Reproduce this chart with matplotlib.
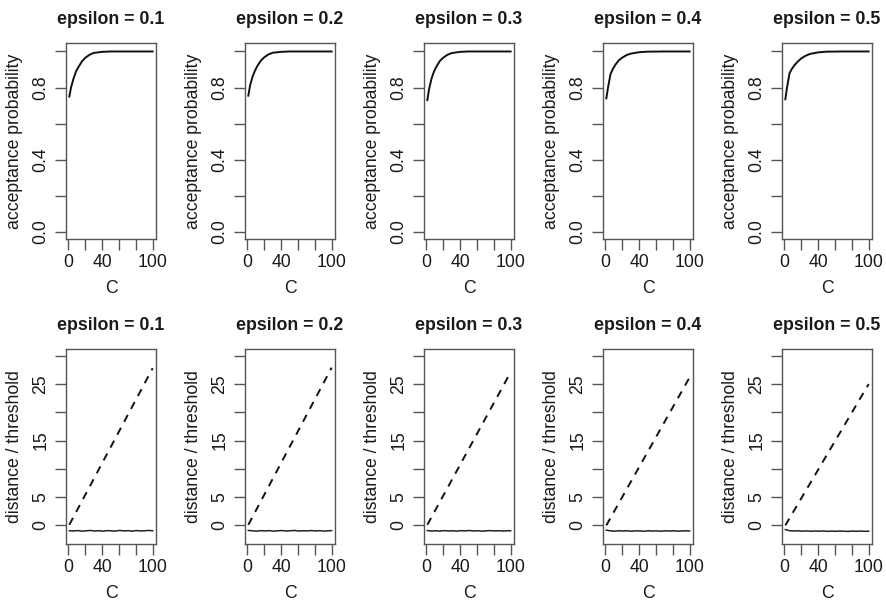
import matplotlib
matplotlib.use("Agg")
import matplotlib.pyplot as plt

plt.rcParams['font.family'] = ['Liberation Sans', 'DejaVu Sans']
plt.rcParams['font.size'] = 12.7

# panel settings
epsilons = [0.1, 0.2, 0.3, 0.4, 0.5]

# acceptance probability (top row)
C_acc = [1, 3, 6, 9, 12, 16, 20, 25, 30, 40, 50, 70, 100]
acc_01 = [0.75, 0.80, 0.85, 0.89, 0.915, 0.945, 0.965, 0.982, 0.992, 0.998, 1.0, 1.0, 1.0]
acc_02 = [0.755, 0.81, 0.86, 0.895, 0.922, 0.95, 0.968, 0.984, 0.993, 0.998, 1.0, 1.0, 1.0]
acc_03 = [0.73, 0.79, 0.85, 0.89, 0.918, 0.948, 0.966, 0.982, 0.991, 0.998, 1.0, 1.0, 1.0]
acc_04 = [0.74, 0.80, 0.875, 0.905, 0.928, 0.952, 0.966, 0.98, 0.988, 0.996, 0.999, 1.0, 1.0]
acc_05 = [0.735, 0.80, 0.88, 0.905, 0.925, 0.945, 0.962, 0.976, 0.986, 0.995, 0.999, 1.0, 1.0]
acc_all = [acc_01, acc_02, acc_03, acc_04, acc_05]

# distance (dashed) and threshold (solid), bottom row
C_dist = [1, 100]
dist_all = [[0.1, 27.8], [0.1, 27.9], [0.1, 27.1], [0.0, 26.2], [0.0, 25.0]]

C_thr = [1, 6, 11, 16, 21, 26, 31, 36, 41, 46, 51, 56, 61, 66, 71, 76, 81, 86, 91, 96, 100]
thr_01 = [-0.95, -1.0, -0.92, -1.02, -0.96, -0.9, -1.0, -0.94, -1.03, -0.93, -0.97,
          -1.01, -0.9, -0.98, -0.94, -1.02, -0.92, -0.99, -0.95, -0.9, -0.97]
thr_02 = [-0.9, -0.97, -1.02, -0.94, -0.99, -0.93, -1.03, -0.96, -0.92, -1.0, -0.95,
          -0.9, -1.01, -0.95, -0.98, -0.92, -1.0, -0.94, -1.02, -0.96, -0.93]
thr_03 = [-0.92, -1.0, -0.95, -1.03, -0.93, -0.99, -0.96, -1.02, -0.94, -0.98, -0.91,
          -1.0, -0.95, -1.03, -0.97, -0.93, -0.99, -0.95, -1.01, -0.94, -0.98]
thr_04 = [-0.85, -0.98, -1.03, -0.95, -1.0, -0.96, -1.04, -0.97, -0.99, -1.05, -0.95,
          -1.01, -0.98, -1.04, -0.96, -1.0, -0.97, -1.03, -0.99, -0.96, -1.01]
thr_05 = [-0.75, -0.95, -1.0, -0.96, -1.03, -0.98, -1.05, -1.0, -1.04, -0.99, -1.06,
          -1.02, -1.05, -1.0, -1.04, -1.07, -1.02, -1.05, -1.01, -1.06, -1.03]
thr_all = [thr_01, thr_02, thr_03, thr_04, thr_05]

W, H = 887, 603
fig = plt.figure(figsize=(W / 100, H / 100), dpi=100)

lefts = [66, 245, 424, 603, 782]
box_w = 90
rows = [(43, 239), (349, 544)]

txt_col = '#1a1a1a'
box_col = '#555555'


def style_axes(ax):
    for s in ax.spines.values():
        s.set_color(box_col)
        s.set_linewidth(1.0)
    ax.tick_params(direction='out', length=8, width=1.0, color=box_col,
                   labelcolor=txt_col)
    ax.tick_params(axis='x', pad=3)
    ax.tick_params(axis='y', pad=4)
    ax.set_xlim(-2.96, 103.96)
    ax.set_xticks([0, 20, 40, 60, 80, 100])
    ax.set_xticklabels(['0', '', '40', '', '', '100'])
    ax.set_xlabel('C', color=txt_col, labelpad=6.5)
    for lab in ax.get_yticklabels():
        lab.set_rotation(90)
        lab.set_va('center')


for i, eps in enumerate(epsilons):
    # top row
    top, bot = rows[0]
    ax = fig.add_axes([lefts[i] / W, 1 - bot / H, box_w / W, (bot - top) / H])
    ax.plot(C_acc, acc_all[i], color='#111111', lw=1.4)
    ax.set_ylim(-0.04, 1.047)
    ax.set_yticks([0, 0.2, 0.4, 0.6, 0.8, 1.0])
    ax.set_yticklabels(['0.0', '', '0.4', '', '0.8', ''])
    ax.set_ylabel('acceptance probability', color=txt_col, labelpad=7)
    ax.set_title('epsilon = %.1f' % eps, fontsize=12.8, fontweight='bold',
                 color=txt_col, pad=14)
    style_axes(ax)

    # bottom row
    top, bot = rows[1]
    ax = fig.add_axes([lefts[i] / W, 1 - bot / H, box_w / W, (bot - top) / H])
    ax.plot(C_dist, dist_all[i], color='#111111', lw=1.4, dashes=(4, 3.5))
    ax.plot(C_thr, thr_all[i], color='#222222', lw=1.1)
    ax.set_ylim(-3.3, 31.2)
    ax.set_yticks([0, 5, 10, 15, 20, 25, 30])
    ax.set_yticklabels(['0', '5', '', '15', '', '25', ''])
    ax.set_ylabel('distance / threshold', color=txt_col, labelpad=7)
    ax.set_title('epsilon = %.1f' % eps, fontsize=12.8, fontweight='bold',
                 color=txt_col, pad=14)
    style_axes(ax)

fig.savefig('out.png', dpi=100)
